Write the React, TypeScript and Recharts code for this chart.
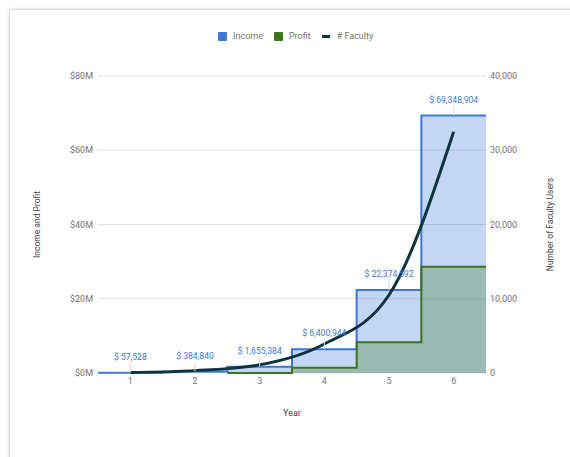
import React from 'react';
import {
  ComposedChart,
  Area,
  Line,
  XAxis,
  YAxis,
  CartesianGrid,
  LabelList,
  Label,
} from 'recharts';

const years = [1, 2, 3, 4, 5, 6];
const income = [57528, 384840, 1655384, 6400944, 22374592, 69348904];
const profit: (number | null)[] = [null, null, 0, 1430000, 8300000, 28600000];
const faculty = [60, 320, 1100, 3900, 10500, 32500];

const moneyTicks = [0, 20000000, 40000000, 60000000, 80000000];
const userTicks = [0, 10000, 20000, 30000, 40000];

const BLUE = '#3c78d8';
const GREEN = '#38761d';
const DARK = '#0c343d';
const FONT = 'Roboto, "Noto Sans", sans-serif';

// stepped areas span the whole band of each year: one row at the band edge, one at the year
const rows: any[] = [];
years.forEach((year, i) => {
  rows.push({ x: year - 0.5, income: income[i], profit: profit[i], faculty: null });
  rows.push({ x: year, income: income[i], profit: profit[i], faculty: faculty[i] });
});
rows.push({
  x: years[years.length - 1] + 0.5,
  income: income[income.length - 1],
  profit: profit[profit.length - 1],
  faculty: null,
});

const IncomeLabel = (props: any) => {
  const { index, value } = props;
  if (index % 2 !== 1) return null;
  const x = props.x ?? props.viewBox?.x;
  const y = props.y ?? props.viewBox?.y;
  return (
    <g>
      <line x1={x} x2={x} y1={y} y2={y - 10} stroke="#d9d9d9" strokeWidth={1} />
      <text
        x={x}
        y={y - 13}
        textAnchor="middle"
        fill={BLUE}
        fontSize={8.6}
        fontFamily={FONT}
      >
        {`$ ${Number(value).toLocaleString('en-US')}`}
      </text>
    </g>
  );
};

const LegendItem = ({ color, label, line }: { color: string; label: string; line?: boolean }) => (
  <div style={{ display: 'flex', alignItems: 'center', marginRight: 11 }}>
    {line ? (
      <div style={{ width: 8, height: 3, background: color, marginRight: 7 }} />
    ) : (
      <div style={{ width: 9, height: 9, background: color, marginRight: 6, borderRadius: 1 }} />
    )}
    <span style={{ fontSize: 9, color: '#757575' }}>{label}</span>
  </div>
);

export default function App() {
  return (
    <div
      style={{
        position: 'absolute',
        left: 0,
        top: 0,
        width: 570,
        height: 457,
        overflow: 'hidden',
        background: '#fff',
        fontFamily: FONT,
      }}
    >
      <div
        style={{
          position: 'absolute',
          left: 10,
          top: 10,
          width: 620,
          height: 520,
          background: '#fff',
          boxShadow: '0 0 3px rgba(0,0,0,0.35)',
        }}
      />
      <div
        style={{
          position: 'absolute',
          left: 218,
          top: 29,
          height: 14,
          display: 'flex',
          alignItems: 'center',
        }}
      >
        <LegendItem color={BLUE} label="Income" />
        <LegendItem color={GREEN} label="Profit" />
        <LegendItem color={DARK} label="# Faculty" line />
      </div>
      <div style={{ position: 'absolute', left: 0, top: 0 }}>
        <ComposedChart
          width={570}
          height={457}
          data={rows}
          margin={{ top: 76, right: 0, bottom: 34, left: 0 }}
          style={{ fontFamily: FONT }}
        >
          <CartesianGrid yAxisId="left" vertical={false} stroke="#e3e3e3" />
          <XAxis
            dataKey="x"
            type="number"
            domain={[0.5, 6.5]}
            ticks={years}
            axisLine={false}
            tickLine={false}
            tickSize={0}
            tickMargin={5}
            height={50}
            tick={{ fontSize: 9, fill: '#757575' }}
          >
            <Label
              value="Year"
              position="insideBottom"
              offset={7}
              style={{ fontSize: 9, fill: '#444' }}
            />
          </XAxis>
          <YAxis
            yAxisId="left"
            domain={[0, 80000000]}
            ticks={moneyTicks}
            width={98}
            axisLine={false}
            tickLine={false}
            tickSize={0}
            tickMargin={5}
            tick={{ fontSize: 9, fill: '#757575' }}
            tickFormatter={(v: number) => `$${v / 1000000}M`}
          >
            <Label
              value="Income and Profit"
              angle={-90}
              position="center"
              dx={-12}
              style={{ fontSize: 8.5, fill: '#444', textAnchor: 'middle' }}
            />
          </YAxis>
          <YAxis
            yAxisId="right"
            orientation="right"
            domain={[0, 40000]}
            ticks={userTicks}
            width={84}
            axisLine={false}
            tickLine={false}
            tickSize={0}
            tickMargin={4}
            tick={{ fontSize: 9, fill: '#757575' }}
            tickFormatter={(v: number) => v.toLocaleString('en-US')}
          >
            <Label
              value="Number of Faculty Users"
              angle={-90}
              position="center"
              dx={22}
              style={{ fontSize: 8.5, fill: '#444', textAnchor: 'middle' }}
            />
          </YAxis>
          <Area
            yAxisId="left"
            type="stepAfter"
            dataKey="income"
            stroke={BLUE}
            strokeWidth={2}
            fill={BLUE}
            fillOpacity={0.3}
            isAnimationActive={false}
          >
            <LabelList dataKey="income" content={IncomeLabel} />
          </Area>
          <Area
            yAxisId="left"
            type="stepAfter"
            dataKey="profit"
            stroke={GREEN}
            strokeWidth={2}
            fill={GREEN}
            fillOpacity={0.3}
            isAnimationActive={false}
          />
          <Line
            yAxisId="right"
            type="monotone"
            dataKey="faculty"
            stroke={DARK}
            strokeWidth={3}
            dot={false}
            connectNulls
            isAnimationActive={false}
          />
        </ComposedChart>
      </div>
    </div>
  );
}
